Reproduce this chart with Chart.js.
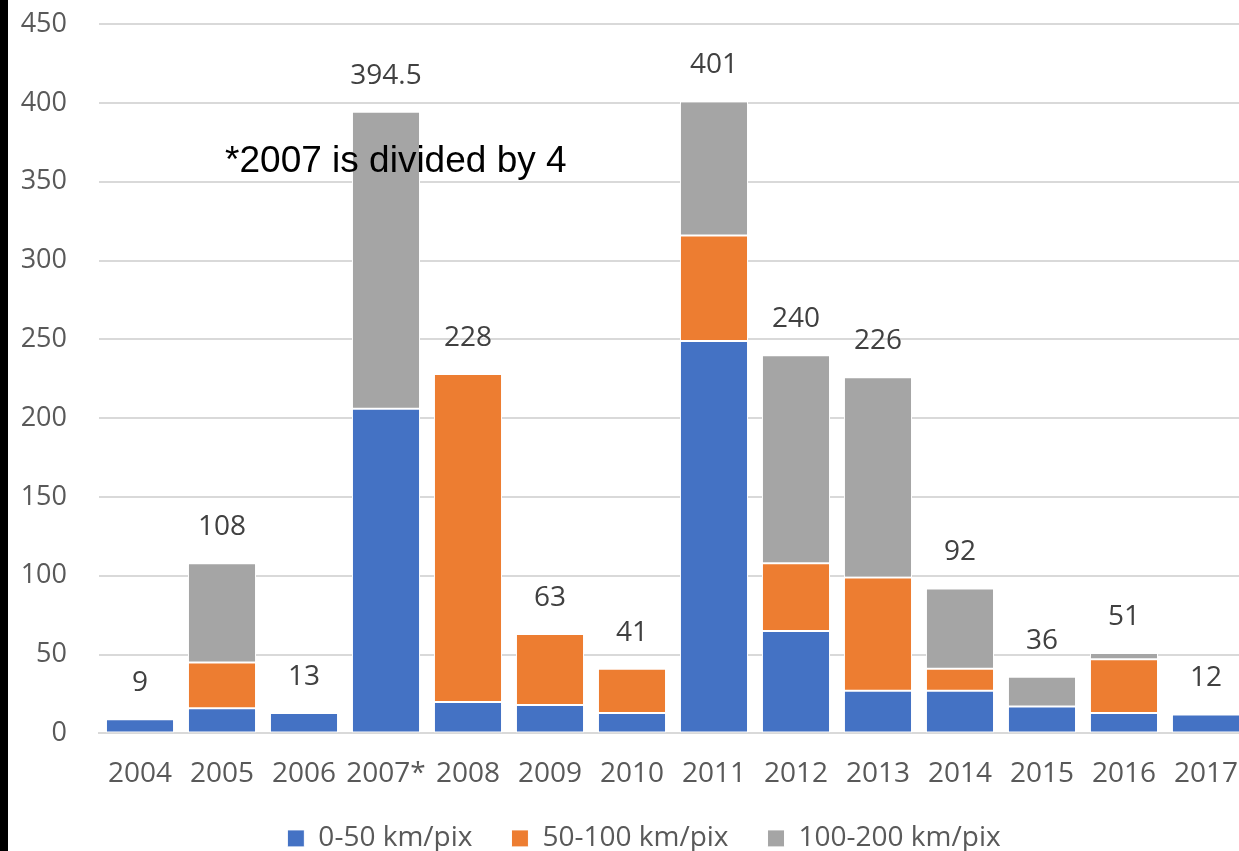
<!DOCTYPE html>
<html>
<head>
<meta charset="utf-8">
<script src="https://cdn.jsdelivr.net/npm/chart.js@4"></script>
<style>
  html, body { margin: 0; padding: 0; background: #fff; overflow: hidden; }
  #wrap { position: absolute; left: 0; top: -24px; width: 1262px; height: 916px; }
  #edge { position: absolute; left: 0; top: 0; width: 8px; height: 851px; background: #000; z-index: 2; }
</style>
</head>
<body>
<div id="edge"></div>
<div id="wrap"><canvas id="chart"></canvas></div>
<script>
// ===== DATA =====
const years = ['2004', '2005', '2006', '2007*', '2008', '2009', '2010', '2011', '2012', '2013', '2014', '2015', '2016', '2017'];
const low  = [9, 16, 13, 206, 20, 18, 13, 249, 65, 27, 27, 17, 13, 12];   // 0-50 km/pix
const mid  = [0, 29, 0, 0, 208, 45, 28, 67, 43, 72, 14, 0, 34, 0];        // 50-100 km/pix
const high = [0, 63, 0, 188.5, 0, 0, 0, 85, 132, 127, 51, 19, 4, 0];      // 100-200 km/pix
const totals = [9, 108, 13, 394.5, 228, 63, 41, 401, 240, 226, 92, 36, 51, 12];
const seriesNames = ['0-50 km/pix', '50-100 km/pix', '100-200 km/pix'];
const note = '*2007 is divided by 4';

// draw the totals above each stack + the note
const totalsPlugin = {
    id: 'totals',
    afterDatasetsDraw(chart) {
        const ctx = chart.ctx;
        const x = chart.scales.x, y = chart.scales.y;
        ctx.save();
        ctx.font = '28px "Open Sans"';
        ctx.fillStyle = '#404040';
        ctx.textAlign = 'center';
        ctx.textBaseline = 'middle';
        totals.forEach((t, i) => {
            ctx.fillText(String(t), x.getPixelForValue(i), y.getPixelForValue(t) - 36);
        });
        // note text, placed in data space
        ctx.font = '37px "Liberation Sans"';
        ctx.fillStyle = '#000';
        ctx.fillText(note, x.getPixelForValue(3.12), y.getPixelForValue(363));
        ctx.restore();
    }
};

// keep the legend row at a fixed distance under the axis
const legendShift = {
    id: 'legendShift',
    afterLayout(chart) {
        const lg = chart.legend;
        const h = lg.bottom - lg.top;
        const pad = lg.options.labels.padding;
        lg.top = chart.chartArea.bottom + 105 - 14 - pad;
        lg.bottom = lg.top + h;
        lg.left += 13;
        lg.right += 13;
    }
};

const ctx = document.getElementById('chart').getContext('2d');
new Chart(ctx, {
    type: 'bar',
    data: {
        labels: years,
        datasets: [
            { label: seriesNames[0], data: low,  backgroundColor: '#4472C4' },
            { label: seriesNames[1], data: mid,  backgroundColor: '#ED7D31' },
            { label: seriesNames[2], data: high, backgroundColor: '#A5A5A5' }
        ].map(d => Object.assign(d, {
            borderColor: '#fff', borderWidth: 1, borderSkipped: false,
            barPercentage: 0.83, categoryPercentage: 1
        }))
    },
    options: {
        responsive: true,
        maintainAspectRatio: false,
        animation: false,
        layout: { padding: { top: 10, right: 0, bottom: 0, left: 0 } },
        scales: {
            x: {
                stacked: true,
                grid: { display: false, drawTicks: false },
                border: { color: '#d9d9d9', width: 2 },
                ticks: { color: '#595959', font: { family: 'Open Sans', size: 28 }, padding: 24, maxRotation: 0, autoSkip: false }
            },
            y: {
                stacked: true,
                min: 0, max: 450,
                grid: { color: '#d9d9d9', lineWidth: 2, drawTicks: false },
                border: { display: false },
                ticks: { stepSize: 50, color: '#595959', font: { family: 'Open Sans', size: 27 }, padding: 32 },
                afterFit: s => { s.width = 99; }
            }
        },
        plugins: {
            legend: {
                position: 'bottom',
                labels: {
                    color: '#595959',
                    font: { family: 'Open Sans', size: 28 },
                    boxWidth: 17, boxHeight: 17,
                    padding: 39
                }
            },
            tooltip: { enabled: false }
        }
    },
    plugins: [totalsPlugin, legendShift]
});
</script>
</body>
</html>
